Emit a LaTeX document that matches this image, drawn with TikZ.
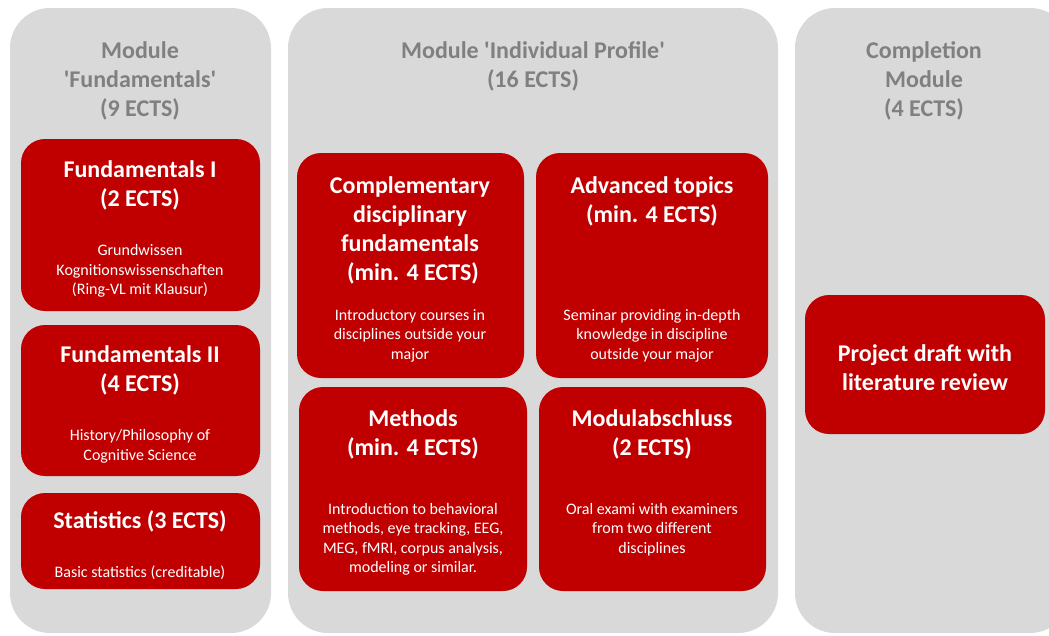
\documentclass[tikz,border=0pt]{standalone}
\usepackage{fontspec}
\setmainfont{Carlito}[Ligatures=TeXOff]
\definecolor{panelgray}{HTML}{D9D9D9}
\definecolor{headgray}{HTML}{808080}
\definecolor{boxred}{HTML}{C00000}
\begin{document}
\begin{tikzpicture}[x=1pt,y=-1pt,
  panel/.style={fill=panelgray, draw=none, rounded corners=40pt, inner sep=0pt},
  redbox/.style={fill=boxred, draw=none, rounded corners=24pt, inner sep=0pt},
  head/.style={text=headgray, font=\bfseries\fontsize{24}{29}\selectfont, align=center, inner sep=0pt},
  btitle/.style={text=white, font=\bfseries\fontsize{24}{29}\selectfont, align=center, inner sep=0pt},
  bdesc/.style={text=white, font=\fontsize{16}{19.5}\selectfont, align=center, inner sep=0pt}]
\useasboundingbox (0,0) rectangle (1049,635);
\clip (0,0) rectangle (1049,635);
% panels
\node[panel, minimum width=261pt, minimum height=625pt] (pL) at (140.5,320.5) {};
\node[panel, minimum width=490pt, minimum height=625pt] (pM) at (533,320.5) {};
\node[panel, minimum width=275pt, minimum height=625pt] (pR) at (932.5,320.5) {};
% panel headings
\node[head] (hL) at (140,81) {Module\\'Fundamentals'\\(9 ECTS)};
\node[head] (hM) at (533,66.5) {Module 'Individual Profile'\\(16 ECTS)};
\node[head] (hR) at (924,81) {Completion\\Module\\(4 ECTS)};
% left column boxes
\node[redbox, minimum width=239pt, minimum height=172pt] (f1) at (140.5,225) {};
\node[btitle] (f1t) at (140,185) {Fundamentals I\\(2 ECTS)};
\node[bdesc] (f1d) at (140,271) {Grundwissen\\Kognitionswissenschaften\\(Ring-VL mit Klausur)};
\node[redbox, minimum width=239pt, minimum height=151pt] (f2) at (140.5,400.5) {};
\node[btitle] (f2t) at (140,370.5) {Fundamentals II\\(4 ECTS)};
\node[bdesc] (f2d) at (140,446.5) {History/Philosophy of\\Cognitive Science};
\node[redbox, minimum width=239pt, minimum height=96pt] (st) at (140.5,541) {};
\node[btitle] (stt) at (140,521) {Statistics (3 ECTS)};
\node[bdesc] (std) at (140,572.5) {Basic statistics (creditable)};
% middle column boxes
\node[redbox, minimum width=227pt, minimum height=225pt] (cd) at (410.5,265.5) {};
\node[btitle] (cdt) at (410,230.5) {Complementary\\disciplinary\\fundamentals\\\hspace*{6pt}(min. 4 ECTS)};
\node[bdesc] (cdd) at (410,335.5) {Introductory courses in\\disciplines outside your\\major};
\node[redbox, minimum width=232pt, minimum height=225pt] (at) at (652,265.5) {};
\node[btitle] (att) at (652,201.5) {Advanced topics\\(min. 4 ECTS)};
\node[bdesc] (atd) at (652,335.5) {Seminar providing in-depth\\knowledge in discipline\\outside your major};
\node[redbox, minimum width=228pt, minimum height=204pt] (me) at (413,489) {};
\node[btitle] (met) at (413,434.5) {Methods\\(min. 4 ECTS)};
\node[bdesc] (med) at (413,539.5) {Introduction to behavioral\\methods, eye tracking, EEG,\\MEG, fMRI, corpus analysis,\\modeling or similar.};
\node[redbox, minimum width=227pt, minimum height=204pt] (ma) at (652.5,489) {};
\node[btitle] (mat) at (652,434.5) {Modulabschluss\\(2 ECTS)};
\node[bdesc] (mad) at (652,529.5) {Oral exami with examiners\\from two different\\disciplines};
% right column box
\node[redbox, minimum width=240pt, minimum height=139pt] (pd) at (925,364.5) {};
\node[btitle] (pdt) at (925,368) {Project draft with\\literature review};
\end{tikzpicture}
\end{document}
